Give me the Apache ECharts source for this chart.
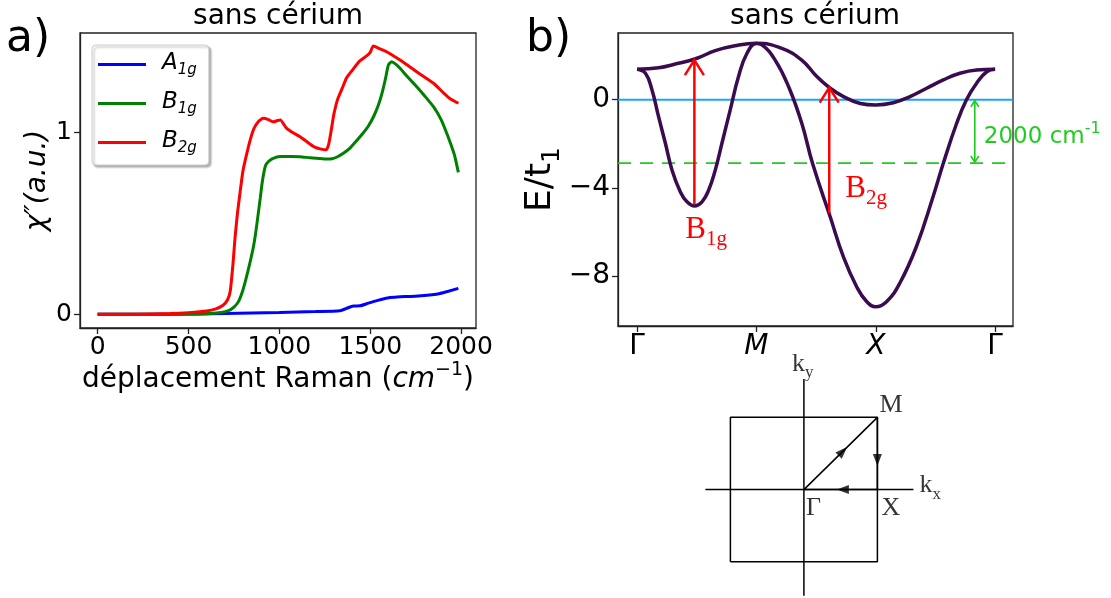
<!DOCTYPE html>
<html>
<head>
<meta charset="utf-8">
<script src="https://cdn.jsdelivr.net/npm/echarts@6/dist/echarts.min.js"></script>
<style>
  html, body { margin: 0; padding: 0; background: #fff; }
  #chart { width: 1111px; height: 598px; }
</style>
</head>
<body>
<div id="chart"></div>
<script>
// ---------- a) Raman response χ'' versus Raman shift (cm^-1) ----------
const ramanA1g = [
  [0, 0], [400, 0.001], [700, 0.004], [1000, 0.01], [1200, 0.015], [1334, 0.02],
  [1370, 0.033], [1407, 0.046], [1444, 0.047], [1480, 0.058], [1517, 0.07], [1560, 0.082],
  [1609, 0.092], [1664, 0.097], [1720, 0.098], [1780, 0.102], [1840, 0.108], [1884, 0.115],
  [1930, 0.127], [1985, 0.143]
];
const ramanB1g = [
  [0, 0], [400, 0.001], [600, 0.003], [680, 0.01], [720, 0.02], [750, 0.04], [775, 0.07],
  [795, 0.12], [815, 0.19], [835, 0.27], [857, 0.37], [870, 0.45], [884, 0.555], [895, 0.64],
  [905, 0.72], [915, 0.78], [925, 0.82], [940, 0.84], [960, 0.855], [1004, 0.868], [1060, 0.868],
  [1114, 0.866], [1170, 0.86], [1224, 0.856], [1260, 0.853], [1290, 0.855], [1320, 0.866],
  [1352, 0.885], [1390, 0.915], [1426, 0.955], [1460, 0.995], [1490, 1.035], [1520, 1.09],
  [1545, 1.15], [1565, 1.215], [1585, 1.3], [1600, 1.37], [1618, 1.388], [1640, 1.375],
  [1664, 1.352], [1710, 1.3], [1756, 1.251], [1800, 1.2], [1848, 1.141], [1890, 1.07],
  [1921, 0.995], [1945, 0.93], [1965, 0.87], [1985, 0.78]
];
const ramanB2g = [
  [0, 0], [200, 0.001], [400, 0.004], [500, 0.009], [600, 0.018], [650, 0.03], [690, 0.05],
  [715, 0.08], [730, 0.13], [745, 0.28], [756, 0.42], [770, 0.56], [785, 0.68], [800, 0.79],
  [820, 0.88], [840, 0.96], [860, 1.02], [885, 1.06], [912, 1.077], [940, 1.07], [967, 1.058],
  [990, 1.065], [1005, 1.068], [1040, 1.022], [1080, 0.995], [1114, 0.976], [1150, 0.95],
  [1189, 0.922], [1230, 0.908], [1258, 0.905], [1270, 0.93], [1280, 0.98], [1290, 1.04],
  [1300, 1.1], [1320, 1.18], [1345, 1.24], [1370, 1.3], [1400, 1.34], [1440, 1.39],
  [1480, 1.42], [1500, 1.44], [1517, 1.474], [1550, 1.46], [1590, 1.443], [1664, 1.397],
  [1756, 1.333], [1848, 1.27], [1900, 1.22], [1940, 1.185], [1985, 1.16]
];
const symmetryNames = ['A1g', 'B1g', 'B2g'];
const ramanTicksX = [0, 500, 1000, 1500, 2000];
const ramanTicksY = [0, 1];

// ---------- b) band dispersion along Γ–M–X–Γ (path coordinate, E/t1) ----------
const bandLower = [
  [0, 1.38], [0.07, 1.2], [0.125, 0.44], [0.18, -0.77], [0.237, -1.98], [0.293, -3.2],
  [0.362, -4.18], [0.418, -4.64], [0.482, -4.83], [0.544, -4.64], [0.6, -4.1], [0.655, -3.2],
  [0.711, -1.98], [0.78, -0.47], [0.85, 1.05], [0.92, 2.1], [1, 2.55], [1.046, 2.49],
  [1.157, 1.8], [1.27, 0.59], [1.38, -1.07], [1.47, -2.89], [1.618, -5.32], [1.729, -7.14],
  [1.84, -8.5], [1.925, -9.18], [2.0, -9.41], [2.09, -9.18], [2.2, -8.35], [2.34, -6.68],
  [2.48, -4.41], [2.566, -2.89], [2.678, -1.07], [2.76, 0], [2.845, 0.75], [2.93, 1.27], [3, 1.38]
];
const bandUpper = [
  [0, 1.38], [0.18, 1.45], [0.32, 1.62], [0.49, 1.86], [0.655, 2.23], [0.82, 2.45], [1, 2.56],
  [1.213, 2.33], [1.38, 1.8], [1.506, 1.05], [1.618, 0.52], [1.73, 0.14], [1.87, -0.17],
  [2.0, -0.24], [2.147, -0.14], [2.287, 0.14], [2.427, 0.52], [2.566, 0.9], [2.705, 1.2],
  [2.845, 1.35], [3, 1.38]
];
const kPointTicks = [0, 1, 2, 3];
const kPointNames = ['Γ', 'M', 'X', 'Γ'];
const energyTicks = [0, -4, -8];
const fermiLevel = 0;
const ramanWindowLevel = -2.88;
// vertical transitions: [k, E start, E end]
const transitionB1g = [0.48, -4.74, 1.8];
const transitionB2g = [1.61, -5.16, 0.55];
const ramanWindowSpan = [2.83, -0.05, -2.83];
const ramanWindowText = ['2000 cm', '-1'];

// ---------- Brillouin zone of the square lattice ----------
const bzSquare = [[-1, -1], [1, -1], [1, 1], [-1, 1], [-1, -1]];
const bzKxAxis = [[-1.34, 0], [1.49, 0]];
const bzKyAxis = [[0, -1.47], [0, 1.53]];
const bzPath = [[0, 0], [1, 1], [1, 0], [0, 0]];          // Γ → M → X → Γ
const bzArrowFractions = [0.53, 0.59, 0.47];
const bzLabelNames = ['ky', 'kx', 'Γ', 'M', 'X'];
const bzLabelPoints = [[0, 1.53], [1.49, 0], [0, 0], [1, 1], [1, 0]];

// ---------------------------------------------------------------
const SANS = 'DejaVu Sans';
const SERIF = 'Liberation Serif';
const FRAME = '#222';
const BAND = '#3b0b4f';
const GREEN = '#1fcc1f';

const chart = echarts.init(document.getElementById('chart'), null, { renderer: 'canvas' });

const minusFmt = v => (v < 0 ? '\u2212' + Math.abs(v) : String(v));

function frameAxis(extra) {
  return Object.assign({
    type: 'value',
    axisLine: { show: true, onZero: false, lineStyle: { color: FRAME, width: 1.3 } },
    splitLine: { show: false }
  }, extra);
}
function ticks(values) {
  return { show: true, inside: false, length: 6, customValues: values, lineStyle: { color: FRAME, width: 1.3 } };
}

// arrow drawn with open chevron heads, anchored to data values
function arrowRenderer(opt) {
  return function (params, api) {
    const x = api.value(0);
    const p0 = api.coord([x, api.value(1)]);
    const p1 = api.coord([x, api.value(2)]);
    const dx = p1[0] - p0[0], dy = p1[1] - p0[1];
    const len = Math.sqrt(dx * dx + dy * dy) || 1;
    const ux = dx / len, uy = dy / len, nx = -uy, ny = ux;
    const head = (tip, sx, sy) => ({
      type: 'polyline',
      shape: { points: [
        [tip[0] - sx * opt.headLen + nx * opt.headHalf, tip[1] - sy * opt.headLen + ny * opt.headHalf],
        tip,
        [tip[0] - sx * opt.headLen - nx * opt.headHalf, tip[1] - sy * opt.headLen - ny * opt.headHalf]
      ] },
      style: { stroke: opt.color, lineWidth: opt.width, fill: null }
    });
    const children = [
      { type: 'line', shape: { x1: p0[0], y1: p0[1], x2: p1[0], y2: p1[1] },
        style: { stroke: opt.color, lineWidth: opt.width } },
      head(p1, ux, uy)
    ];
    if (opt.both) children.push(head(p0, -ux, -uy));
    if (opt.label) {
      const base = opt.label.anchor === 'start' ? p0 : opt.label.anchor === 'mid'
        ? [(p0[0] + p1[0]) / 2, (p0[1] + p1[1]) / 2] : p1;
      children.push({
        type: 'text',
        style: Object.assign({
          x: base[0] + opt.label.dx, y: base[1] + opt.label.dy,
          align: 'left', textAlign: 'left',
          verticalAlign: opt.label.va, textVerticalAlign: opt.label.va
        }, opt.label.style)
      });
    }
    return { type: 'group', children };
  };
}

const serifRich = {
  b: { fontFamily: SERIF, fontSize: 31, color: '#ff0000', fill: '#ff0000', lineHeight: 34, verticalAlign: 'top' },
  s: { fontFamily: SERIF, fontSize: 21, color: '#ff0000', fill: '#ff0000', lineHeight: 20, padding: [15, 0, 0, 0], verticalAlign: 'top' }
};

// Brillouin zone arrowheads placed along the Γ→M→X→Γ path
const bzArrowheads = bzArrowFractions.map((f, i) => {
  const a = bzPath[i], b = bzPath[i + 1];
  const ang = Math.atan2(b[1] - a[1], b[0] - a[0]) * 180 / Math.PI;
  return { value: [a[0] + (b[0] - a[0]) * f, a[1] + (b[1] - a[1]) * f], symbolRotate: ang - 90 };
});
const bzLabelText = {
  ky: '{k|k}{sub|y}', kx: '{k|k}{sub|x}', 'Γ': '{k|Γ}', M: '{k|M}', X: '{k|X}'
};
const bzLabelOffset = {
  ky: [-12, -14], kx: [6, -3], 'Γ': [2, 20], M: [2, -11], X: [4, 20]
};

const textEl = (x, y, text, size, align) => ({
  type: 'text', x, y,
  style: { text, fontFamily: SANS, fontSize: size, fill: '#000',
    align, textAlign: align, verticalAlign: 'middle', textVerticalAlign: 'middle' }
});

const option = {
  animation: false,
  backgroundColor: '#fff',
  graphic: [
    textEl(278, 17, 'sans cérium', 28, 'center'),
    textEl(815, 17, 'sans cérium', 28, 'center'),
    textEl(6, 40, 'a)', 44, 'left'),
    textEl(526, 40, 'b)', 44, 'left')
  ],
  legend: {
    orient: 'vertical',
    left: 92, top: 45,
    data: symmetryNames,
    icon: 'rect',
    itemWidth: 48, itemHeight: 3, itemGap: 13,
    padding: [7, 12, 9, 6],
    backgroundColor: '#fff',
    borderColor: '#cccccc', borderWidth: 1, borderRadius: 4,
    shadowColor: 'rgba(0,0,0,0.3)', shadowBlur: 2, shadowOffsetX: 2, shadowOffsetY: 2,
    formatter: n => '{i|' + n[0] + '}{s|' + n.slice(1) + '}',
    textStyle: {
      padding: [0, 0, 0, 11],
      rich: {
        i: { fontFamily: SANS, fontStyle: 'italic', fontSize: 23, color: '#000', lineHeight: 25, verticalAlign: 'top' },
        s: { fontFamily: SANS, fontStyle: 'italic', fontSize: 15, color: '#000', lineHeight: 14, padding: [11, 0, 0, 0], verticalAlign: 'top' }
      }
    }
  },
  grid: [
    { left: 80, top: 33, width: 396, height: 295, show: true, borderColor: FRAME, borderWidth: 1.3, backgroundColor: 'transparent' },
    { left: 618, top: 33, width: 395, height: 293, show: true, borderColor: FRAME, borderWidth: 1.3, backgroundColor: 'transparent' },
    { left: 701, top: 374, width: 220.5, height: 226.3, show: false }
  ],
  xAxis: [
    frameAxis({
      gridIndex: 0, min: -97, max: 2082,
      axisTick: ticks(ramanTicksX),
      axisLabel: { customValues: ramanTicksX, color: '#000', fontFamily: SANS, fontSize: 25, margin: 7, formatter: v => String(v) },
      name: '{n|déplacement Raman (}{i|cm}{sup|\u22121}{n|)}',
      nameLocation: 'middle', nameGap: 33,
      nameTextStyle: {
        rich: {
          n: { fontFamily: SANS, fontSize: 28, color: '#000', lineHeight: 32, verticalAlign: 'bottom' },
          i: { fontFamily: SANS, fontStyle: 'italic', fontSize: 28, color: '#000', lineHeight: 32, verticalAlign: 'bottom' },
          sup: { fontFamily: SANS, fontSize: 19, color: '#000', lineHeight: 19, padding: [0, 0, 14, 0], verticalAlign: 'bottom' }
        }
      }
    }),
    frameAxis({
      gridIndex: 1, min: -0.16, max: 3.15,
      axisTick: ticks(kPointTicks),
      axisLabel: {
        customValues: kPointTicks, margin: 7,
        formatter: v => {
          const n = kPointNames[Math.round(v)];
          return n === 'Γ' ? '{u|Γ}' : '{i|' + n + '}';
        },
        rich: {
          u: { fontFamily: SANS, fontSize: 28, color: '#000' },
          i: { fontFamily: SANS, fontStyle: 'italic', fontSize: 28, color: '#000' }
        }
      }
    }),
    { type: 'value', gridIndex: 2, min: -1.4, max: 1.6, show: false }
  ],
  yAxis: [
    frameAxis({
      gridIndex: 0, min: -0.075, max: 1.546,
      axisTick: ticks(ramanTicksY),
      axisLabel: { customValues: ramanTicksY, color: '#000', fontFamily: SANS, fontSize: 25, margin: 8 },
      name: 'χ″(a.u.)', nameLocation: 'middle', nameRotate: 90, nameGap: 28,
      nameTextStyle: { fontFamily: SANS, fontStyle: 'italic', fontSize: 28, color: '#000' }
    }),
    frameAxis({
      gridIndex: 1, min: -10.28, max: 3.03,
      axisTick: ticks(energyTicks),
      axisLabel: { customValues: energyTicks, color: '#000', fontFamily: SANS, fontSize: 28, margin: 8, formatter: minusFmt },
      name: '{n|E/t}{s|1}', nameLocation: 'middle', nameRotate: 90, nameGap: 50,
      nameTextStyle: {
        rich: {
          n: { fontFamily: SANS, fontSize: 36, color: '#000', lineHeight: 40, verticalAlign: 'top' },
          s: { fontFamily: SANS, fontSize: 25, color: '#000', lineHeight: 24, padding: [17, 0, 0, 0], verticalAlign: 'top' }
        }
      }
    }),
    { type: 'value', gridIndex: 2, min: -1.5, max: 1.6, show: false }
  ],
  series: [
    // ---- panel a ----
    { name: 'A1g', type: 'line', xAxisIndex: 0, yAxisIndex: 0, data: ramanA1g, symbol: 'none', smooth: 0.2,
      lineStyle: { color: '#0000ff', width: 3 }, itemStyle: { color: '#0000ff' }, z: 3 },
    { name: 'B1g', type: 'line', xAxisIndex: 0, yAxisIndex: 0, data: ramanB1g, symbol: 'none', smooth: 0.2,
      lineStyle: { color: '#008000', width: 3 }, itemStyle: { color: '#008000' }, z: 4 },
    { name: 'B2g', type: 'line', xAxisIndex: 0, yAxisIndex: 0, data: ramanB2g, symbol: 'none', smooth: 0.2,
      lineStyle: { color: '#ff0000', width: 3 }, itemStyle: { color: '#ff0000' }, z: 5 },

    // ---- panel b: reference levels ----
    { type: 'line', xAxisIndex: 1, yAxisIndex: 1, symbol: 'none', silent: true,
      data: [[-0.16, fermiLevel], [3.15, fermiLevel]],
      lineStyle: { color: '#1aa7f0', width: 2 }, z: 2 },
    { type: 'line', xAxisIndex: 1, yAxisIndex: 1, symbol: 'none', silent: true,
      data: [[-0.16, ramanWindowLevel], [3.15, ramanWindowLevel]],
      lineStyle: { color: GREEN, width: 1.8, type: [13, 9] }, z: 2 },

    // ---- panel b: bands ----
    { type: 'line', xAxisIndex: 1, yAxisIndex: 1, data: bandLower, symbol: 'none', smooth: 0.45,
      lineStyle: { color: BAND, width: 3.5 }, z: 4 },
    { type: 'line', xAxisIndex: 1, yAxisIndex: 1, data: bandUpper, symbol: 'none', smooth: 0.45,
      lineStyle: { color: BAND, width: 3.5 }, z: 4 },

    // ---- panel b: transitions ----
    { type: 'custom', xAxisIndex: 1, yAxisIndex: 1, data: [transitionB1g], z: 6,
      renderItem: arrowRenderer({ color: '#ff0000', width: 2.5, headLen: 15, headHalf: 9.5,
        label: { anchor: 'start', dx: -9, dy: 10, va: 'top', style: { text: '{b|B}{s|1g}', rich: serifRich } } }) },
    { type: 'custom', xAxisIndex: 1, yAxisIndex: 1, data: [transitionB2g], z: 6,
      renderItem: arrowRenderer({ color: '#ff0000', width: 2.5, headLen: 15, headHalf: 9.5,
        label: { anchor: 'start', dx: 16, dy: -40, va: 'top', style: { text: '{b|B}{s|2g}', rich: serifRich } } }) },
    { type: 'custom', xAxisIndex: 1, yAxisIndex: 1, data: [ramanWindowSpan], z: 6,
      renderItem: arrowRenderer({ color: GREEN, width: 1.6, headLen: 6, headHalf: 4, both: true,
        label: { anchor: 'mid', dx: 9, dy: 4, va: 'middle', style: {
          text: '{n|' + ramanWindowText[0] + '}{sup|' + ramanWindowText[1] + '}',
          rich: {
            n: { fontFamily: SANS, fontSize: 23, color: GREEN, fill: GREEN, lineHeight: 26, verticalAlign: 'bottom' },
            sup: { fontFamily: SANS, fontSize: 16, color: GREEN, fill: GREEN, lineHeight: 16, padding: [0, 0, 12, 0], verticalAlign: 'bottom' }
          } } } }) },

    // ---- Brillouin zone ----
    { type: 'line', xAxisIndex: 2, yAxisIndex: 2, data: bzSquare, symbol: 'none', silent: true,
      lineStyle: { color: '#000', width: 1.5 } },
    { type: 'line', xAxisIndex: 2, yAxisIndex: 2, data: bzKxAxis, symbol: 'none', silent: true,
      lineStyle: { color: '#000', width: 1.5 } },
    { type: 'line', xAxisIndex: 2, yAxisIndex: 2, data: bzKyAxis, symbol: 'none', silent: true,
      lineStyle: { color: '#000', width: 1.5 } },
    { type: 'line', xAxisIndex: 2, yAxisIndex: 2, data: bzPath, symbol: 'none', silent: true,
      lineStyle: { color: '#000', width: 1.5 } },
    { type: 'scatter', xAxisIndex: 2, yAxisIndex: 2, data: bzArrowheads, symbol: 'triangle',
      symbolSize: [9, 12], itemStyle: { color: '#000' }, silent: true, z: 5 },
    { type: 'scatter', xAxisIndex: 2, yAxisIndex: 2, symbolSize: 0, silent: true, z: 6,
      data: bzLabelPoints.map((p, i) => ({
        value: p, name: bzLabelNames[i],
        label: { show: true, position: bzLabelOffset[bzLabelNames[i]], align: 'left', verticalAlign: 'middle',
          formatter: bzLabelText[bzLabelNames[i]] }
      })),
      label: {
        rich: {
          k: { fontFamily: SERIF, fontSize: 26, color: '#000', lineHeight: 28, verticalAlign: 'top' },
          sub: { fontFamily: SERIF, fontSize: 17, color: '#000', lineHeight: 17, padding: [13, 0, 0, 0], verticalAlign: 'top' }
        }
      } }
  ]
};

chart.setOption(option);
</script>
</body>
</html>
